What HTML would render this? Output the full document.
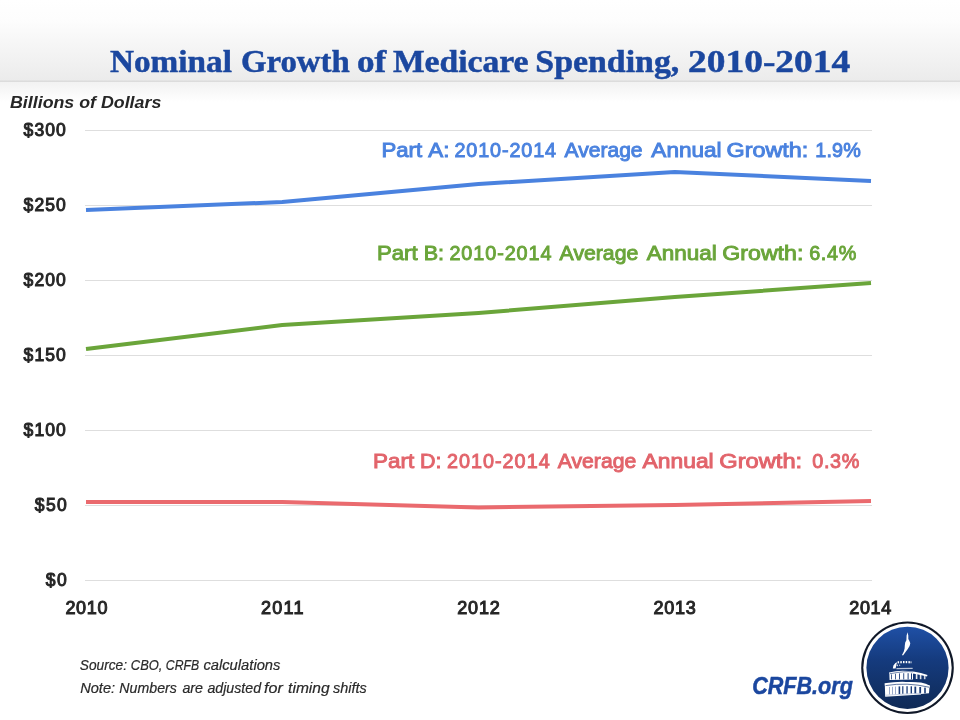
<!DOCTYPE html>
<html><head><meta charset="utf-8">
<style>
html,body{margin:0;padding:0;background:#fff;}
body{width:960px;height:720px;overflow:hidden;position:relative;}
svg{position:absolute;left:0;top:0;display:block;will-change:transform;}
</style></head><body>
<svg width="960" height="720" viewBox="0 0 960 720">
<defs>
<linearGradient id="ban" x1="0" y1="0" x2="0" y2="1">
<stop offset="0" stop-color="#ffffff"/>
<stop offset="0.25" stop-color="#fdfdfd"/>
<stop offset="1" stop-color="#ebebeb"/>
</linearGradient>
<linearGradient id="sh" x1="0" y1="0" x2="0" y2="1">
<stop offset="0" stop-color="#f2f2f2"/>
<stop offset="1" stop-color="#ffffff"/>
</linearGradient>
<linearGradient id="lg" x1="0" y1="0" x2="0" y2="1">
<stop offset="0" stop-color="#1f50a6"/>
<stop offset="0.4" stop-color="#153b7e"/>
<stop offset="1" stop-color="#0f2a56"/>
</linearGradient>
</defs>
<rect x="0" y="0" width="960" height="81" fill="url(#ban)"/>
<rect x="0" y="80.5" width="960" height="1.5" fill="#dcdcdc"/>
<rect x="0" y="82" width="960" height="20" fill="url(#sh)"/>
<g font-family="Liberation Serif" font-size="32.3" font-weight="bold" fill="#1b479f" stroke="#1b479f" stroke-width="0.5">
<text x="109.98" y="72" textLength="121.92" lengthAdjust="spacingAndGlyphs">Nominal</text>
<text x="241.0" y="72" textLength="108.72" lengthAdjust="spacingAndGlyphs">Growth</text>
<text x="357.03" y="72" textLength="29.24" lengthAdjust="spacingAndGlyphs">of</text>
<text x="392.9" y="72" textLength="135.63" lengthAdjust="spacingAndGlyphs">Medicare</text>
<text x="535.31" y="72" textLength="144.01" lengthAdjust="spacingAndGlyphs">Spending,</text>
<text x="688.09" y="72" textLength="162.13" lengthAdjust="spacingAndGlyphs">2010-2014</text>
</g>
<text x="10.0" y="107.7" font-family="Liberation Sans" font-size="16.8" font-weight="bold" font-style="italic" fill="#262626" textLength="151.29" lengthAdjust="spacingAndGlyphs">Billions of Dollars</text>
<g stroke="#dedede" stroke-width="1">
<line x1="85" y1="130.5" x2="872" y2="130.5"/>
<line x1="85" y1="205.5" x2="872" y2="205.5"/>
<line x1="85" y1="280.5" x2="872" y2="280.5"/>
<line x1="85" y1="355.5" x2="872" y2="355.5"/>
<line x1="85" y1="430.5" x2="872" y2="430.5"/>
<line x1="85" y1="505.5" x2="872" y2="505.5"/>
<line x1="85" y1="580.5" x2="872" y2="580.5"/>
</g>
<g font-family="Liberation Sans" font-size="17.5" fill="#262626" stroke="#262626" stroke-width="1.0">
<text x="23.57" y="136.3" textLength="42.24" lengthAdjust="spacing">$300</text>
<text x="23.57" y="211.3" textLength="42.24" lengthAdjust="spacing">$250</text>
<text x="23.57" y="286.3" textLength="42.24" lengthAdjust="spacing">$200</text>
<text x="23.57" y="361.3" textLength="42.24" lengthAdjust="spacing">$150</text>
<text x="23.57" y="436.3" textLength="42.24" lengthAdjust="spacing">$100</text>
<text x="34.82" y="511.3" textLength="31.99" lengthAdjust="spacing">$50</text>
<text x="45.82" y="586.3" textLength="20.98" lengthAdjust="spacing">$0</text>
</g>
<g font-family="Liberation Sans" font-size="18" fill="#262626" stroke="#262626" stroke-width="1.0">
<text x="65.38" y="613.6" textLength="42.09" lengthAdjust="spacing">2010</text>
<text x="261.06" y="613.6" textLength="42.51" lengthAdjust="spacing">2011</text>
<text x="457.2" y="613.6" textLength="42.62" lengthAdjust="spacing">2012</text>
<text x="653.52" y="613.6" textLength="42.2" lengthAdjust="spacing">2013</text>
<text x="849.2" y="613.6" textLength="42.11" lengthAdjust="spacing">2014</text>
</g>
<g fill="none" stroke-width="4" stroke-linejoin="round" stroke-linecap="butt">
<polyline stroke="#4a82df" points="86,210 282.25,202 478.5,184 674.75,172 871,181"/>
<polyline stroke="#6aa53a" points="86,349 282.25,325 478.5,313 674.75,297 871,283"/>
<polyline stroke="#ea6a6e" points="86,502 282.25,502 478.5,507.5 674.75,505 871,501"/>
</g>
<g font-family="Liberation Sans" font-size="19.8" fill="#4a82df" stroke="#4a82df" stroke-width="0.9">
<text x="381.47" y="157" textLength="40.69" lengthAdjust="spacingAndGlyphs">Part</text>
<text x="428.36" y="157" textLength="21.19" lengthAdjust="spacingAndGlyphs">A:</text>
<text x="454.38" y="157" textLength="101.76" lengthAdjust="spacing">2010-2014</text>
<text x="564.63" y="157" textLength="77.89" lengthAdjust="spacingAndGlyphs">Average</text>
<text x="651.36" y="157" textLength="70.25" lengthAdjust="spacingAndGlyphs">Annual</text>
<text x="726.6" y="157" textLength="81.75" lengthAdjust="spacingAndGlyphs">Growth:</text>
<text x="815.26" y="157" textLength="45.51" lengthAdjust="spacing">1.9%</text>
</g>
<g font-family="Liberation Sans" font-size="19.8" fill="#6aa53a" stroke="#6aa53a" stroke-width="0.9">
<text x="377.03" y="260" textLength="40.6" lengthAdjust="spacingAndGlyphs">Part</text>
<text x="423.68" y="260" textLength="20.39" lengthAdjust="spacingAndGlyphs">B:</text>
<text x="449.38" y="260" textLength="102.14" lengthAdjust="spacing">2010-2014</text>
<text x="559.61" y="260" textLength="78.67" lengthAdjust="spacingAndGlyphs">Average</text>
<text x="646.71" y="260" textLength="70.03" lengthAdjust="spacingAndGlyphs">Annual</text>
<text x="722.35" y="260" textLength="80.98" lengthAdjust="spacingAndGlyphs">Growth:</text>
<text x="809.22" y="260" textLength="47.04" lengthAdjust="spacing">6.4%</text>
</g>
<g font-family="Liberation Sans" font-size="19.8" fill="#e2646b" stroke="#e2646b" stroke-width="0.9">
<text x="373.09" y="468" textLength="41.12" lengthAdjust="spacingAndGlyphs">Part</text>
<text x="420.08" y="468" textLength="21.4" lengthAdjust="spacingAndGlyphs">D:</text>
<text x="446.91" y="468" textLength="102.77" lengthAdjust="spacing">2010-2014</text>
<text x="557.8" y="468" textLength="78.4" lengthAdjust="spacingAndGlyphs">Average</text>
<text x="642.63" y="468" textLength="71.08" lengthAdjust="spacingAndGlyphs">Annual</text>
<text x="719.32" y="468" textLength="82.88" lengthAdjust="spacingAndGlyphs">Growth:</text>
<text x="812.16" y="468" textLength="47.26" lengthAdjust="spacing">0.3%</text>
</g>

<g font-family="Liberation Sans" font-size="14.3" font-style="italic" fill="#2a2a2a" stroke="#2a2a2a" stroke-width="0.2">
<text x="79.74" y="669.9" textLength="47.29" lengthAdjust="spacingAndGlyphs">Source:</text>
<text x="130.8" y="669.9" textLength="31.61" lengthAdjust="spacingAndGlyphs">CBO,</text>
<text x="165.86" y="669.9" textLength="33.29" lengthAdjust="spacingAndGlyphs">CRFB</text>
<text x="203.4" y="669.9" textLength="77.04" lengthAdjust="spacingAndGlyphs">calculations</text>
<text x="80.21" y="692.6" textLength="34.89" lengthAdjust="spacingAndGlyphs">Note:</text>
<text x="119.37" y="692.6" textLength="57.5" lengthAdjust="spacingAndGlyphs">Numbers</text>
<text x="182.42" y="692.6" textLength="20.59" lengthAdjust="spacingAndGlyphs">are</text>
<text x="207.41" y="692.6" textLength="53.64" lengthAdjust="spacingAndGlyphs">adjusted</text>
<text x="264.07" y="692.6" textLength="18.8" lengthAdjust="spacingAndGlyphs">for</text>
<text x="288.11" y="692.6" textLength="41.55" lengthAdjust="spacingAndGlyphs">timing</text>
<text x="332.94" y="692.6" textLength="33.78" lengthAdjust="spacingAndGlyphs">shifts</text>
</g>
<text x="752.24" y="693.7" font-family="Liberation Sans" font-size="23.5" font-weight="bold" font-style="italic" fill="#1b479f" stroke="#1b479f" stroke-width="0.5" textLength="100.6" lengthAdjust="spacingAndGlyphs">CRFB.org</text>
<!-- logo -->
<circle cx="907.5" cy="667.8" r="46.3" fill="#101828"/>
<circle cx="907.5" cy="667.8" r="44.2" fill="#ffffff"/>
<circle cx="907.5" cy="667.8" r="41.1" fill="url(#lg)"/>
<g fill="#ffffff">
<path d="M907.5,632.2 L908.3,635.5 L908.3,639 L909.3,640.8 L910.3,643.2 L909.6,646 L907.6,649.2 L905.2,652.4 L903,655.6 L902,655 L903.8,651.6 L904.6,648.6 L904.8,645.6 L905.2,642.6 L906.4,640.2 L906.6,635.5 Z"/>
<path d="M892.8,668.6 L893.4,665.6 L895.4,663 L897.2,662.2 L896.4,664.6 L895.6,668.6 Z"/>
<rect x="897.6" y="661.2" width="1.5" height="2.2"/>
<rect x="900.3" y="661.1" width="1.5" height="2.2"/>
<rect x="903" y="661" width="1.5" height="2.2"/>
<rect x="905.7" y="661" width="1.5" height="2.2"/>
<rect x="908.4" y="661.1" width="1.5" height="2.2"/>
<rect x="910.4" y="661.3" width="1.2" height="2" fill-opacity="0.7"/>
<rect x="896.6" y="664.6" width="1.4" height="1.6" fill-opacity="0.75"/>
<rect x="899" y="664.6" width="1.2" height="1.4" fill-opacity="0.6"/>
<path d="M896.5,668 L912.5,667.8 L912.8,668.9 L896.3,669.2 Z" fill-opacity="0.7"/>
<path d="M889,672.4 Q906,668.2 927.5,675 L927,676.6 Q906,670.4 889.3,674 Z"/>
<path d="M889.3,673.5 L889.6,680 L913,679.6 L913,671.6 Q900,671 889.3,673.5 Z"/>
<rect x="915.8" y="673" width="1.6" height="6" fill-opacity="0.9"/>
<rect x="919.8" y="673.8" width="1.6" height="5.4" fill-opacity="0.85"/>
<rect x="923.9" y="674.8" width="1.6" height="4.4" fill-opacity="0.8"/>
<path d="M884.6,683.3 Q907,679.4 929.8,685.4 L929.4,687.4 Q907,681.6 884.8,685.5 Z"/>
<path d="M884.8,684.6 L885.2,696.8 L921,694.6 L921,682.4 Q900,681.2 884.8,684.6 Z"/>
<path d="M921,682.6 Q926,683.6 929.6,685.6 L929,693.2 L921,694 Z"/>
</g>
<g fill="#1b3c78">
<rect x="891.1" y="674.4" width="0.8" height="5"/>
<rect x="895" y="673.8" width="0.8" height="5.6"/>
<rect x="899" y="673.4" width="0.9" height="6"/>
<rect x="903.3" y="673.2" width="0.9" height="6.2"/>
<rect x="907.6" y="673.2" width="1" height="6.2"/>
<rect x="911" y="673.4" width="1" height="6"/>
<rect x="898.6" y="686.4" width="1.6" height="7.6"/>
<rect x="902.2" y="686.2" width="1.2" height="7.6"/>
<rect x="906.4" y="686.2" width="1.3" height="7.4"/>
<rect x="910.6" y="686.3" width="1.4" height="7.2"/>
<rect x="914.4" y="686.6" width="1.8" height="6.8"/>
<rect x="919.3" y="687" width="1.8" height="6.4"/>
<rect x="924.2" y="687.6" width="1.6" height="5.8"/>
</g>
<path d="M885.5,685.6 Q907,682 929,687.2" fill="none" stroke="#1b3c78" stroke-width="0.7"/>
<path d="M889.6,673.8 Q906,670.8 913,671.9" fill="none" stroke="#1b3c78" stroke-width="0.6"/>
<path d="M886,695.2 L921,693.2" fill="none" stroke="#8ea3c8" stroke-width="0.5"/>
<g fill="#6f86b4">
<rect x="889" y="687" width="0.7" height="7.4"/>
<rect x="892.2" y="686.8" width="0.7" height="7.6"/>
<rect x="895.2" y="686.6" width="0.7" height="7.6"/>
</g>

</svg>
</body></html>
